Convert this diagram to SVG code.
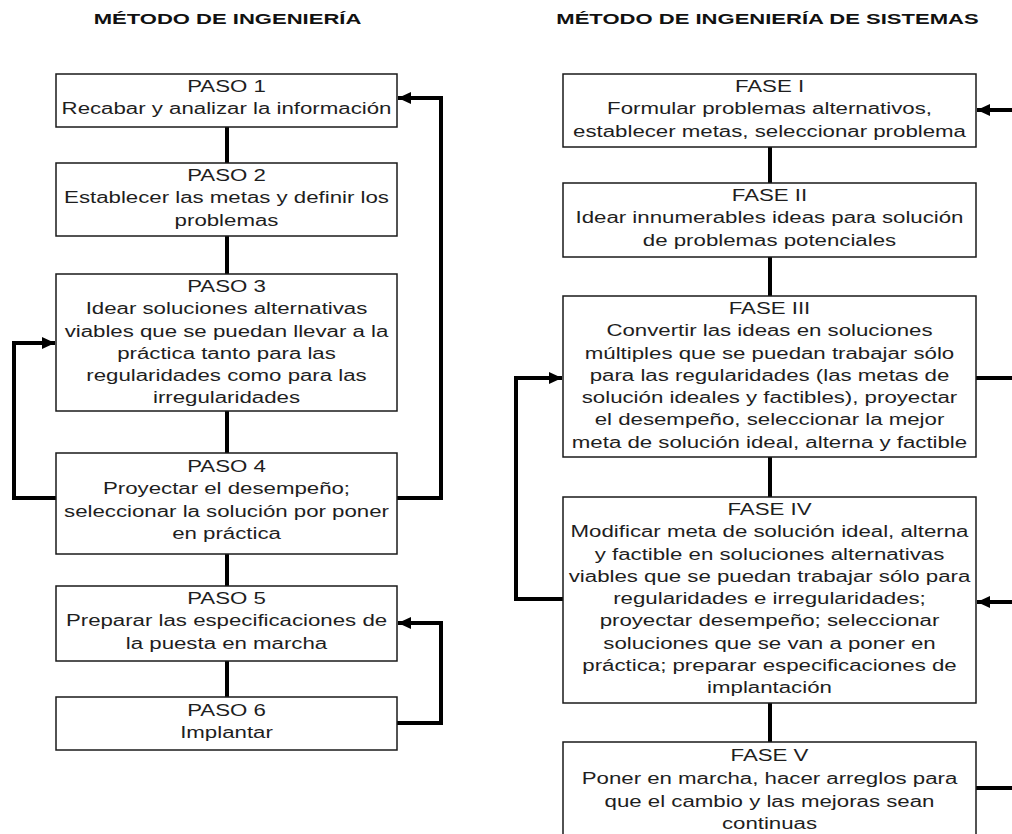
<svg xmlns="http://www.w3.org/2000/svg" width="1012" height="834" viewBox="0 0 1012 834">
  <style>
    .bg { fill: #ffffff; }
    .box { fill: #ffffff; stroke: #1a1a1a; stroke-width: 1.5; }
    .txt { font-family: "Liberation Sans", Arial, sans-serif; font-size: 16px; fill: #1e1e1e; text-anchor: middle; }
    .title { font-family: "Liberation Sans", Arial, sans-serif; font-size: 15px; font-weight: bold; fill: #111111; text-anchor: middle; }
    .link { fill: none; stroke: #000000; stroke-width: 4; stroke-linejoin: miter; stroke-linecap: butt; }
    .arrow { marker-end: url(#head); }
  </style>
  <defs>
    <marker id="head" markerUnits="userSpaceOnUse" markerWidth="14" markerHeight="12" refX="13" refY="6" orient="auto">
      <path d="M0,0 L13,6 L0,12 Z" fill="#000000"/>
    </marker>
  </defs>

  <rect class="bg" x="0" y="0" width="1012" height="834"/>

  <!-- column headings -->
  <g id="title-left" transform="translate(227.5 0) scale(1.47 1)">
    <text class="title" x="0" y="24">MÉTODO DE INGENIERÍA</text>
  </g>
  <g id="title-right" transform="translate(767.5 0) scale(1.47 1)">
    <text class="title" x="0" y="24">MÉTODO DE INGENIERÍA DE SISTEMAS</text>
  </g>

  <!-- connectors -->
  <g id="connectors">
    <!-- left column: straight links -->
    <path class="link" d="M227,127 V163"/>
    <path class="link" d="M227,236 V274"/>
    <path class="link" d="M227,411 V453"/>
    <path class="link" d="M227,554 V586"/>
    <path class="link" d="M227,661 V697"/>
    <!-- left column: feedback loops -->
    <path class="link arrow" d="M397,498 H441 V98 H398"/>
    <path class="link arrow" d="M56,498 H14 V343 H55"/>
    <path class="link arrow" d="M397,723 H441 V623 H398"/>

    <!-- right column: straight links -->
    <path class="link" d="M770,147 V183"/>
    <path class="link" d="M770,257 V296"/>
    <path class="link" d="M770,457 V497"/>
    <path class="link" d="M770,703 V742"/>
    <!-- right column: feedback loops -->
    <path class="link arrow" d="M1014,110 H977"/>
    <path class="link" d="M976,378 H1014"/>
    <path class="link arrow" d="M1014,602 H977"/>
    <path class="link" d="M976,788 H1014"/>
    <path class="link arrow" d="M563,599 H516 V378 H562"/>
  </g>

  <!-- left column nodes -->
  <g id="paso1">
    <rect class="box" x="56" y="74" width="341" height="53"/>
    <g transform="translate(226.5 0) scale(1.39 1)">
      <text class="txt" x="0" y="92">PASO 1</text>
      <text class="txt" x="0" y="114.3">Recabar y analizar la información</text>
    </g>
  </g>
  <g id="paso2">
    <rect class="box" x="56" y="163" width="341" height="73"/>
    <g transform="translate(226.5 0) scale(1.39 1)">
      <text class="txt" x="0" y="181">PASO 2</text>
      <text class="txt" x="0" y="203.3">Establecer las metas y definir los</text>
      <text class="txt" x="0" y="225.6">problemas</text>
    </g>
  </g>
  <g id="paso3">
    <rect class="box" x="56" y="274" width="341" height="137"/>
    <g transform="translate(226.5 0) scale(1.39 1)">
      <text class="txt" x="0" y="292">PASO 3</text>
      <text class="txt" x="0" y="314.3">Idear soluciones alternativas</text>
      <text class="txt" x="0" y="336.6">viables que se puedan llevar a la</text>
      <text class="txt" x="0" y="358.9">práctica tanto para las</text>
      <text class="txt" x="0" y="381.2">regularidades como para las</text>
      <text class="txt" x="0" y="403.5">irregularidades</text>
    </g>
  </g>
  <g id="paso4">
    <rect class="box" x="56" y="453" width="341" height="101"/>
    <g transform="translate(226.5 0) scale(1.39 1)">
      <text class="txt" x="0" y="472">PASO 4</text>
      <text class="txt" x="0" y="494.5">Proyectar el desempeño;</text>
      <text class="txt" x="0" y="517">seleccionar la solución por poner</text>
      <text class="txt" x="0" y="539.5">en práctica</text>
    </g>
  </g>
  <g id="paso5">
    <rect class="box" x="56" y="586" width="341" height="75"/>
    <g transform="translate(226.5 0) scale(1.39 1)">
      <text class="txt" x="0" y="604">PASO 5</text>
      <text class="txt" x="0" y="626.3">Preparar las especificaciones de</text>
      <text class="txt" x="0" y="648.6">la puesta en marcha</text>
    </g>
  </g>
  <g id="paso6">
    <rect class="box" x="56" y="697" width="341" height="53"/>
    <g transform="translate(226.5 0) scale(1.39 1)">
      <text class="txt" x="0" y="716">PASO 6</text>
      <text class="txt" x="0" y="738">Implantar</text>
    </g>
  </g>

  <!-- right column nodes -->
  <g id="fase1">
    <rect class="box" x="563" y="74" width="413" height="73"/>
    <g transform="translate(769.5 0) scale(1.39 1)">
      <text class="txt" x="0" y="92">FASE I</text>
      <text class="txt" x="0" y="114.3">Formular problemas alternativos,</text>
      <text class="txt" x="0" y="136.6">establecer metas, seleccionar problema</text>
    </g>
  </g>
  <g id="fase2">
    <rect class="box" x="563" y="183" width="413" height="74"/>
    <g transform="translate(769.5 0) scale(1.39 1)">
      <text class="txt" x="0" y="201">FASE II</text>
      <text class="txt" x="0" y="223.3">Idear innumerables ideas para solución</text>
      <text class="txt" x="0" y="245.6">de problemas potenciales</text>
    </g>
  </g>
  <g id="fase3">
    <rect class="box" x="563" y="296" width="413" height="161"/>
    <g transform="translate(769.5 0) scale(1.39 1)">
      <text class="txt" x="0" y="314">FASE III</text>
      <text class="txt" x="0" y="336.3">Convertir las ideas en soluciones</text>
      <text class="txt" x="0" y="358.6">múltiples que se puedan trabajar sólo</text>
      <text class="txt" x="0" y="380.9">para las regularidades (las metas de</text>
      <text class="txt" x="0" y="403.2">solución ideales y factibles), proyectar</text>
      <text class="txt" x="0" y="425.5">el desempeño, seleccionar la mejor</text>
      <text class="txt" x="0" y="447.8">meta de solución ideal, alterna y factible</text>
    </g>
  </g>
  <g id="fase4">
    <rect class="box" x="563" y="497" width="413" height="206"/>
    <g transform="translate(769.5 0) scale(1.39 1)">
      <text class="txt" x="0" y="515">FASE IV</text>
      <text class="txt" x="0" y="537.3">Modificar meta de solución ideal, alterna</text>
      <text class="txt" x="0" y="559.6">y factible en soluciones alternativas</text>
      <text class="txt" x="0" y="581.9">viables que se puedan trabajar sólo para</text>
      <text class="txt" x="0" y="604.2">regularidades e irregularidades;</text>
      <text class="txt" x="0" y="626.5">proyectar desempeño; seleccionar</text>
      <text class="txt" x="0" y="648.8">soluciones que se van a poner en</text>
      <text class="txt" x="0" y="671.1">práctica; preparar especificaciones de</text>
      <text class="txt" x="0" y="693.4">implantación</text>
    </g>
  </g>
  <g id="fase5">
    <rect class="box" x="563" y="742" width="413" height="100"/>
    <g transform="translate(769.5 0) scale(1.39 1)">
      <text class="txt" x="0" y="761">FASE V</text>
      <text class="txt" x="0" y="783.8">Poner en marcha, hacer arreglos para</text>
      <text class="txt" x="0" y="806.6">que el cambio y las mejoras sean</text>
      <text class="txt" x="0" y="829.4">continuas</text>
    </g>
  </g>
</svg>
